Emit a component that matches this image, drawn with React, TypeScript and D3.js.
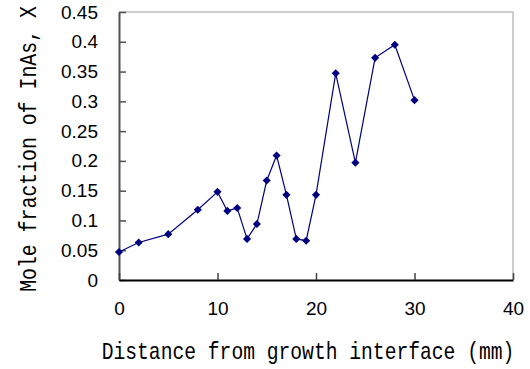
import React, { useEffect, useRef } from 'react';
import * as d3 from 'd3';

// distance from growth interface (mm)
const distances = [0, 2, 5, 8, 10, 11, 12, 13, 14, 15, 16, 17, 18, 19, 20, 22, 24, 26, 28, 30];
// mole fraction of InAs
const fractions = [0.047, 0.063, 0.077, 0.118, 0.148, 0.116, 0.121, 0.069, 0.094, 0.167, 0.209, 0.143, 0.069, 0.066, 0.143, 0.347, 0.197, 0.373, 0.395, 0.302];

const xTicks = [0, 10, 20, 30, 40];
const yTicks = [0, 0.05, 0.1, 0.15, 0.2, 0.25, 0.3, 0.35, 0.4, 0.45];

const W = 530;
const H = 369;
const margin = { top: 12, right: 17, bottom: 89, left: 119 };

export default function App() {
  const svgRef = useRef<SVGSVGElement>(null);

  useEffect(() => {
    const svg = d3.select(svgRef.current);
    svg.selectAll('*').remove();

    const width = W - margin.left - margin.right;
    const height = H - margin.top - margin.bottom;

    const x = d3.scaleLinear().domain([0, 40]).range([0, width]);
    const y = d3.scaleLinear().domain([0, 0.45]).range([height, 0]);

    const g = svg.append('g').attr('transform', `translate(${margin.left},${margin.top})`);

    // light frame on top / right
    g.append('path')
      .attr('d', `M0,0H${width}V${height}`)
      .attr('fill', 'none')
      .attr('stroke', '#c0c0c0')
      .attr('stroke-width', 1.5);

    // y axis, ticks inward
    const yAxis = g.append('g')
      .call(d3.axisLeft(y).tickValues(yTicks).tickSizeInner(-7).tickSizeOuter(0).tickPadding(21).tickFormat(d => String(+d)));
    yAxis.select('.domain').attr('stroke', '#505050').attr('stroke-width', 2);
    yAxis.selectAll('.tick line').attr('stroke', '#505050').attr('stroke-width', 1.5);
    yAxis.selectAll('.tick text')
      .attr('font-family', 'Liberation Sans, Arial, sans-serif')
      .attr('font-size', 19)
      .attr('fill', '#000');

    // x axis, ticks inward
    const xAxis = g.append('g')
      .attr('transform', `translate(0,${height})`)
      .call(d3.axisBottom(x).tickValues(xTicks).tickSizeInner(-7).tickSizeOuter(0).tickPadding(22));
    xAxis.select('.domain').attr('stroke', '#000').attr('stroke-width', 2);
    xAxis.selectAll('.tick line').attr('stroke', '#404040').attr('stroke-width', 1.5);
    xAxis.selectAll('.tick text')
      .attr('font-family', 'Liberation Sans, Arial, sans-serif')
      .attr('font-size', 19)
      .attr('fill', '#000');

    const data = distances.map((d, i) => ({ d, v: fractions[i] }));

    const line = d3.line<{ d: number; v: number }>()
      .x(p => x(p.d))
      .y(p => y(p.v));

    g.append('path')
      .datum(data)
      .attr('d', line)
      .attr('fill', 'none')
      .attr('stroke', '#000080')
      .attr('stroke-width', 1.2);

    const diamond = d3.symbol().type(d3.symbolDiamond2).size(42);
    g.selectAll('.pt')
      .data(data)
      .enter()
      .append('path')
      .attr('class', 'pt')
      .attr('transform', p => `translate(${x(p.d)},${y(p.v)})`)
      .attr('d', diamond)
      .attr('fill', '#000080');

    // axis titles: monospace squeezed horizontally to look like a narrow gothic font
    const title = (label: string, tx: number, ty: number, rot: number, targetLen: number) => {
      const holder = svg.append('g');
      const t = holder.append('text')
        .attr('text-anchor', 'middle')
        .attr('font-family', 'Liberation Mono, DejaVu Sans Mono, monospace')
        .attr('font-size', 23)
        .attr('fill', '#000')
        .text(label);
      const natural = (t.node() as SVGTextElement).getComputedTextLength() || targetLen;
      holder.attr('transform', `translate(${tx},${ty}) rotate(${rot}) scale(${targetLen / natural},1)`);
    };

    title('Distance from growth interface (mm)', 308, 359, 0, 413);
    title('Mole fraction of InAs, X', 36, 149, -90, 286);
  }, []);

  return (
    <svg ref={svgRef} width={W} height={H} style={{ position: 'absolute', left: 0, top: 0, background: '#fff' }} />
  );
}
